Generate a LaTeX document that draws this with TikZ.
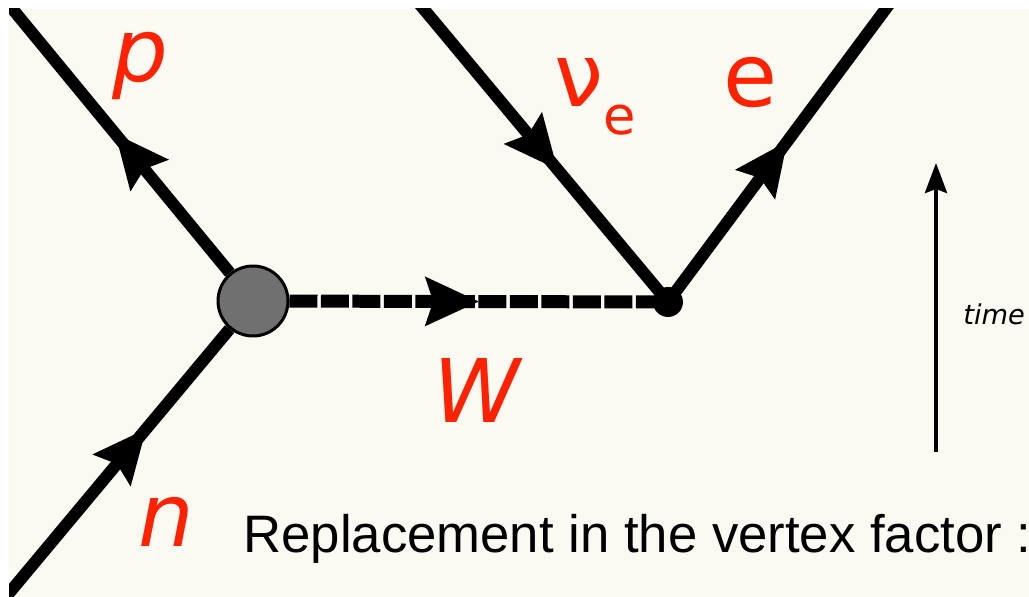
\documentclass[tikz,border=0pt]{standalone}
\usepackage{fontspec}
\setmainfont{Liberation Sans}
\newfontfamily\lblfont{DejaVu Sans}
\usepackage{tikz}
\usetikzlibrary{arrows.meta,positioning,decorations.markings}
\definecolor{labelred}{RGB}{255,34,0}
\definecolor{cream}{RGB}{250,250,243}
\definecolor{blobgray}{RGB}{112,112,112}

\begin{document}
\begin{tikzpicture}[x=0.02cm, y=-0.02cm,
        fermion/.style={line width=0.24cm, black},
        boson/.style={line width=0.26cm, black, dash pattern=on 0.56cm off 0.07cm},
        midarrow/.style={postaction={decorate, decoration={markings, mark=at position #1 with {\arrow{Stealth[length=1.08cm, width=1.0cm, inset=0.17cm, line width=0pt]}}}}},
        blob/.style={circle, draw=black, line width=0.06cm, fill=blobgray, minimum size=1.4cm, inner sep=0pt},
        vertex/.style={circle, fill=black, minimum size=0.6cm, inner sep=0pt},
        particle/.style={text=labelred, font=\lblfont\fontsize{50}{50}\selectfont, anchor=base west, inner sep=0pt},
        timearrow/.style={-{Stealth[length=0.6cm, width=0.44cm, inset=0.08cm]}, line width=0.08cm}]

        \useasboundingbox (0,0) rectangle (1029,597);
        \fill[white] (0,0) rectangle (1029,597);
        \fill[cream] (9,9) rectangle (1029,597);

        \begin{scope}
        \clip (9,9) rectangle (1029,597);

        % Vertices
        \node[blob] (blob) at (253,301) {};
        \node[vertex] (vtx) at (668,302) {};

        % Line ends outside the frame
        \coordinate (pend) at (1,-5);
        \coordinate (nstart) at (-5,610);
        \coordinate (nustart) at (412,-5);
        \coordinate (eend) at (896,-5);

        % Lines
        \draw[fermion, midarrow=0.5] (blob) -- (pend);
        \draw[fermion, midarrow=0.644] (nstart) -- (blob);
        \draw[fermion, midarrow=0.568] (nustart) -- (vtx.center);
        \draw[fermion, midarrow=0.523] (vtx.center) -- (eend);
        \draw[boson, midarrow=0.5] (blob) -- (vtx.center);

        % Labels
        \node[particle] (plbl) at (112,82) {\itshape p};
        \node[particle] (nlbl) at (138,547) {\itshape n};
        \node[particle] (wlbl) at (433,423) {\itshape W};
        \node[particle] (nulbl) at (554,107) {ν\raisebox{-0.56cm}{\fontsize{30}{30}\selectfont e}};
        \node[particle] (elbl) at (723,107) {e};

        % Time axis
        \coordinate (tbot) at (936,452);
        \coordinate (ttop) at (936,163);
        \draw[timearrow] (tbot) -- (ttop);
        \node[anchor=base west, inner sep=0pt, font=\lblfont\itshape\fontsize{15.5}{18}\selectfont] (timelbl) at (963,325) {time};

        \node[anchor=base west, inner sep=0pt, font=\fontsize{30}{36}\selectfont] (caption) at (243,553) {Replacement in the vertex factor :};
        \end{scope}

    \end{tikzpicture}
\end{document}
